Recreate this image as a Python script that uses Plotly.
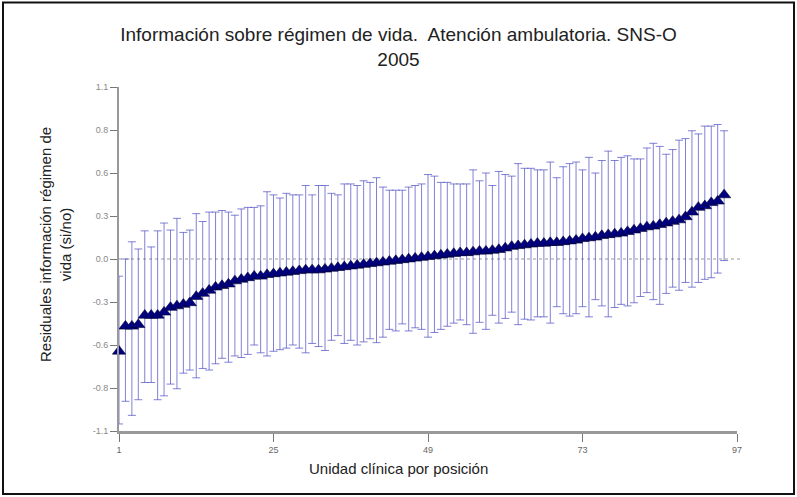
import plotly.graph_objects as go

positions = list(range(1, 96))

residual = [
    -0.59, -0.43, -0.43, -0.42, -0.36, -0.36, -0.36, -0.34, -0.31, -0.30,
    -0.29, -0.28, -0.24, -0.22, -0.20, -0.18, -0.17, -0.16, -0.14, -0.13,
    -0.12, -0.11, -0.11, -0.10, -0.095, -0.09, -0.085, -0.08, -0.075, -0.07,
    -0.07, -0.07, -0.065, -0.06, -0.055, -0.05, -0.045, -0.04, -0.035, -0.03,
    -0.025, -0.02, -0.015, -0.01, -0.005, 0.0, 0.005, 0.01, 0.015, 0.02,
    0.025, 0.03, 0.035, 0.04, 0.04, 0.045, 0.05, 0.05, 0.055, 0.06,
    0.07, 0.08, 0.085, 0.09, 0.095, 0.10, 0.10, 0.105, 0.105, 0.11,
    0.115, 0.12, 0.13, 0.135, 0.14, 0.15, 0.155, 0.16, 0.165, 0.175,
    0.185, 0.195, 0.205, 0.21, 0.22, 0.23, 0.24, 0.25, 0.27, 0.30,
    0.33, 0.34, 0.36, 0.37, 0.41,
]

upper = [
    -0.11, 0.0, 0.11, 0.064, 0.18, 0.077, 0.18, 0.23, 0.185, 0.26,
    0.17, 0.185, 0.29, 0.24, 0.30, 0.30, 0.31, 0.30, 0.28, 0.32,
    0.33, 0.33, 0.34, 0.43, 0.41, 0.39, 0.42, 0.41, 0.41, 0.47,
    0.41, 0.47, 0.47, 0.42, 0.41, 0.48, 0.48, 0.47, 0.50, 0.49,
    0.52, 0.46, 0.44, 0.44, 0.44, 0.46, 0.47, 0.48, 0.54, 0.53,
    0.49, 0.49, 0.48, 0.48, 0.48, 0.57, 0.50, 0.55, 0.47, 0.56,
    0.54, 0.53, 0.61, 0.58, 0.58, 0.57, 0.57, 0.62, 0.52, 0.59,
    0.61, 0.62, 0.57, 0.65, 0.55, 0.63, 0.69, 0.63, 0.65, 0.66,
    0.64, 0.64, 0.71, 0.74, 0.72, 0.67, 0.70, 0.76, 0.77, 0.82,
    0.80, 0.85, 0.85, 0.86, 0.82,
]

lower = [
    -1.055, -0.91, -1.00, -0.90, -0.79, -0.79, -0.90, -0.875, -0.80, -0.83,
    -0.73, -0.71, -0.76, -0.70, -0.71, -0.67, -0.635, -0.66, -0.62, -0.63,
    -0.61, -0.55, -0.60, -0.62, -0.59, -0.58, -0.57, -0.55, -0.57, -0.60,
    -0.54, -0.56, -0.585, -0.52, -0.49, -0.54, -0.52, -0.55, -0.53, -0.51,
    -0.535, -0.50, -0.45, -0.46, -0.415, -0.46, -0.44, -0.45, -0.50, -0.47,
    -0.45, -0.43, -0.41, -0.39, -0.42, -0.475, -0.405, -0.45, -0.36, -0.41,
    -0.38, -0.34, -0.42, -0.385, -0.39, -0.37, -0.37, -0.41, -0.305, -0.35,
    -0.365, -0.35, -0.305, -0.37, -0.26, -0.30, -0.37, -0.31, -0.29, -0.30,
    -0.28, -0.24, -0.215, -0.26, -0.29, -0.22, -0.18, -0.20, -0.15, -0.18,
    -0.15, -0.13, -0.12, -0.09, -0.01,
]

x_tickvals = [1, 25, 49, 73, 97]
y_tickvals = [-1.1, -0.825, -0.55, -0.275, 0.0, 0.275, 0.55, 0.825, 1.1]
y_ticktext = ["-1.1", "-0.8", "-0.6", "-0.3", "0.0", "0.3", "0.6", "0.8", "1.1"]

title_text = "Información sobre régimen de vida.  Atención ambulatoria. SNS-O<br>2005"
x_title = "Unidad clínica por posición"
y_title = "Residuales información régimen de<br>vida (si/no)"

err_plus = [u - v for u, v in zip(upper, residual)]
err_minus = [v - l for v, l in zip(residual, lower)]

W, H = 797, 497
ML, MR, MT, MB = 119, 60, 87, 66
PW, PH = W - ML - MR, H - MT - MB


def px_to_paper_x(px):
    return (px - ML) / PW


def px_to_paper_y(py):
    return (H - MB - py) / PH


fig = go.Figure()
fig.add_trace(go.Scatter(
    x=positions, y=residual, mode="markers",
    marker=dict(symbol="triangle-up", size=11.5, color="#000080",
                line=dict(color="#000030", width=0.6)),
    error_y=dict(type="data", symmetric=False, array=err_plus, arrayminus=err_minus,
                 color="rgba(75,75,195,0.7)", thickness=1, width=4),
    showlegend=False, cliponaxis=False,
))

fig.update_layout(
    width=W, height=H,
    margin=dict(l=ML, r=MR, t=MT, b=MB),
    paper_bgcolor="white", plot_bgcolor="white",
    font=dict(family="Liberation Sans, Arial, sans-serif", color="#222222"),
    title=dict(text=title_text, x=0.5, xanchor="center", y=1 - 41 / H, yanchor="top",
               font=dict(size=19, color="#222222")),
    xaxis=dict(range=[1, 97], tickvals=x_tickvals, showgrid=False, zeroline=False,
               showline=True, linecolor="#999999", linewidth=3,
               ticks="outside", ticklen=8, tickcolor="#777777", tickwidth=1,
               tickfont=dict(size=9, color="#666666")),
    yaxis=dict(range=[-1.1, 1.1], tickvals=y_tickvals, ticktext=y_ticktext,
               showgrid=False, zeroline=False,
               showline=True, linecolor="#999999", linewidth=2,
               ticks="outside", ticklen=7, tickcolor="#777777", tickwidth=1,
               tickfont=dict(size=9, color="#888888")),
    shapes=[
        dict(type="line", xref="paper", yref="y", x0=0, x1=1.005, y0=0, y1=0,
             line=dict(color="#999999", width=1, dash="dot"), layer="below"),
        dict(type="rect", xref="paper", yref="paper",
             x0=px_to_paper_x(3), x1=px_to_paper_x(794),
             y0=px_to_paper_y(494), y1=px_to_paper_y(2.5),
             line=dict(color="#111111", width=2)),
    ],
    annotations=[
        dict(text=x_title, xref="paper", yref="paper",
             x=px_to_paper_x(398), y=px_to_paper_y(468),
             xanchor="center", yanchor="middle", showarrow=False,
             font=dict(size=15, color="#222222")),
        dict(text=y_title, xref="paper", yref="paper",
             x=px_to_paper_x(55), y=px_to_paper_y(245),
             xanchor="center", yanchor="middle", showarrow=False, textangle=-90,
             font=dict(size=15, color="#222222")),
    ],
)

fig.write_html(
    "out.html",
    config={"displayModeBar": False},
    post_script="document.body.style.margin='0';document.body.style.padding='0';"
                "document.body.style.overflow='hidden';",
)
